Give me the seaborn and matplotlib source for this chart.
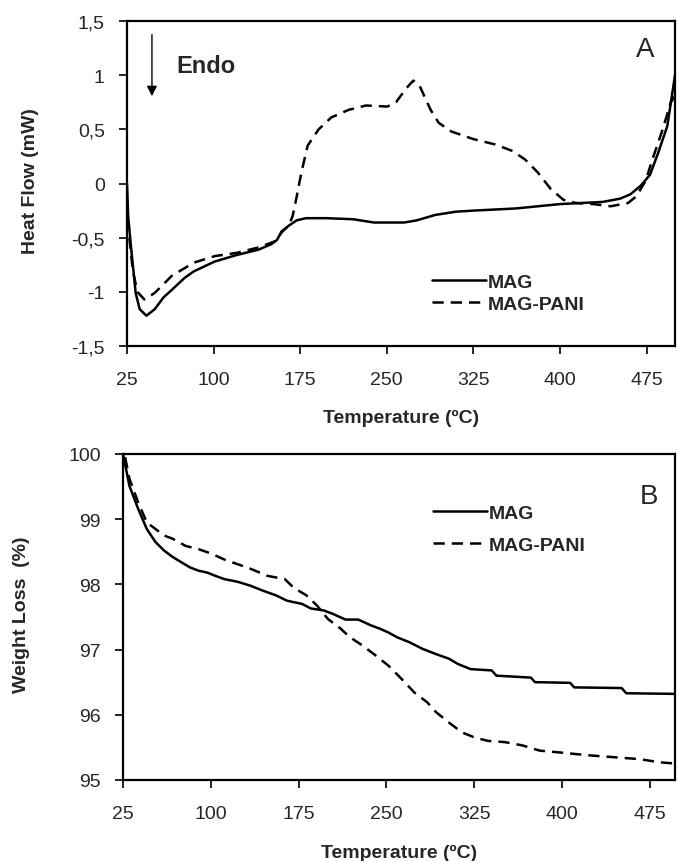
import matplotlib
matplotlib.use("Agg")
import matplotlib.pyplot as plt
import seaborn as sns
import pandas as pd

# ---- Data: panel A (DSC) ----
mag_dsc_t = [25, 26, 28.7, 32.5, 36, 41.8, 49, 56.7, 64, 75, 83, 101, 120, 139, 150, 155, 159, 165, 172,
             180, 198, 221, 239, 265, 276, 292, 310, 325, 344, 362, 381, 400, 418, 437, 452, 461, 470,
             478, 485, 493, 500]
mag_dsc_hf = [0.0, -0.3, -0.61, -1.01, -1.16, -1.22, -1.16, -1.05, -0.98, -0.87, -0.81, -0.72, -0.66, -0.61,
              -0.56, -0.52, -0.44, -0.39, -0.34, -0.32, -0.32, -0.33, -0.36, -0.36, -0.34, -0.29, -0.26,
              -0.25, -0.24, -0.23, -0.21, -0.19, -0.18, -0.17, -0.14, -0.10, -0.02, 0.08, 0.28, 0.53, 1.02]
pani_dsc_t = [27, 30, 34, 40, 49, 64, 83, 101, 120, 139, 154, 159, 165, 168.5, 172, 176, 181.5, 191, 202,
              217, 232, 250.5, 258, 267, 273, 278.5, 288, 295, 306, 325, 344, 359, 370, 381, 392, 403,
              414, 429, 444, 459, 466, 474, 481, 489, 496, 500]
pani_dsc_hf = [-0.5, -0.8, -1.0, -1.07, -1.01, -0.85, -0.73, -0.67, -0.64, -0.59, -0.53, -0.45, -0.39, -0.30,
               -0.12, 0.10, 0.35, 0.50, 0.61, 0.68, 0.72, 0.71, 0.75, 0.88, 0.95, 0.90, 0.68, 0.56, 0.48,
               0.41, 0.36, 0.30, 0.22, 0.10, -0.05, -0.15, -0.18, -0.19, -0.21, -0.18, -0.12, 0.02, 0.25,
               0.50, 0.75, 0.81]

# ---- Data: panel B (TGA) ----
mag_tga_t = [25, 30.5, 37.9, 45.3, 52.7, 60, 67.4, 74.8, 82.2, 89.6, 97, 104, 111.7, 122.8, 133.8, 145, 156,
             165, 178, 185.5, 196.5, 204, 215, 226, 237, 244.5, 252, 259, 270, 281, 292.5, 303.5, 311,
             322, 340, 344, 373.5, 377, 407, 410.5, 451, 455, 498]
mag_tga_w = [100, 99.51, 99.16, 98.85, 98.65, 98.52, 98.42, 98.34, 98.26, 98.21, 98.18, 98.13, 98.08, 98.04,
             97.98, 97.90, 97.83, 97.75, 97.70, 97.63, 97.60, 97.55, 97.46, 97.46, 97.37, 97.32, 97.26,
             97.19, 97.11, 97.01, 96.93, 96.86, 96.78, 96.70, 96.68, 96.60, 96.57, 96.50, 96.49, 96.42,
             96.41, 96.33, 96.32]
pani_tga_t = [26.8, 30.5, 37.9, 45.3, 52.7, 60, 67.4, 78.5, 89.6, 100.6, 111.7, 122.8, 133.8, 148.6, 163.3,
              170.7, 181.8, 191, 200, 211, 218.8, 229.8, 240.8, 252, 263, 274, 285, 292.5, 303.5, 314.6,
              325.6, 336.7, 351.5, 366.3, 381, 399.4, 421.6, 443.7, 465.9, 484.3, 498]
pani_tga_w = [99.95, 99.62, 99.26, 98.95, 98.85, 98.75, 98.70, 98.59, 98.54, 98.47, 98.38, 98.31, 98.24,
              98.13, 98.08, 97.95, 97.83, 97.67, 97.47, 97.32, 97.19, 97.06, 96.91, 96.75, 96.55, 96.34,
              96.19, 96.04, 95.88, 95.73, 95.65, 95.60, 95.58, 95.53, 95.45, 95.42, 95.38, 95.35, 95.32,
              95.27, 95.25]

series_labels = ["MAG", "MAG-PANI"]
x_ticks = [25, 100, 175, 250, 325, 400, 475]
a_yticks = [-1.5, -1, -0.5, 0, 0.5, 1, 1.5]
a_yticklabels = ["-1,5", "-1", "-0,5", "0", "0,5", "1", "1,5"]
b_yticks = [95, 96, 97, 98, 99, 100]

sns.set_style("ticks")
plt.rcParams["font.family"] = ["Liberation Sans", "DejaVu Sans"]

fig = plt.figure(figsize=(6.77, 8.62), dpi=100)
axA = fig.add_axes([0.1876, 0.5974, 0.8100, 0.3771])
axB = fig.add_axes([0.1817, 0.0940, 0.8160, 0.3782])

dfA = pd.concat([
    pd.DataFrame({"T": mag_dsc_t, "v": mag_dsc_hf, "s": series_labels[0]}),
    pd.DataFrame({"T": pani_dsc_t, "v": pani_dsc_hf, "s": series_labels[1]}),
])
dfB = pd.concat([
    pd.DataFrame({"T": mag_tga_t, "v": mag_tga_w, "s": series_labels[0]}),
    pd.DataFrame({"T": pani_tga_t, "v": pani_tga_w, "s": series_labels[1]}),
])

dash_map = {"MAG": "", "MAG-PANI": (4.5, 2.8)}
for ax, df in ((axA, dfA), (axB, dfB)):
    sns.lineplot(data=df, x="T", y="v", hue="s", style="s", palette=["black", "black"],
                 dashes=dash_map, linewidth=1.8, sort=False, estimator=None, ax=ax)
    for sp in ax.spines.values():
        sp.set_linewidth(1.6)
        sp.set_color("black")
    ax.set_xticks(x_ticks)
    ax.set_xticklabels([str(t) for t in x_ticks])
    ax.tick_params(axis="both", direction="out", length=6, width=1.2, labelsize=14, color="black")
    ax.tick_params(axis="x", pad=12)
    ax.tick_params(axis="y", pad=10)

axA.set_xlabel("Temperature (ºC)", fontsize=14, fontweight="bold", labelpad=15)
axB.set_xlabel("Temperature (ºC)", fontsize=14, fontweight="bold", labelpad=16)

axA.set_xlim(25, 500)
axA.set_ylim(-1.5, 1.5)
axA.set_yticks(a_yticks)
axA.set_yticklabels(a_yticklabels)
axA.set_ylabel("Heat Flow (mW)", fontsize=14, fontweight="bold")
axA.yaxis.set_label_coords(-0.16, 0.51)

axB.set_xlim(25, 497)
axB.set_ylim(95, 100)
axB.set_yticks(b_yticks)
axB.set_yticklabels([str(t) for t in b_yticks])
axB.set_ylabel("Weight Loss  (%)", fontsize=14, fontweight="bold")
axB.yaxis.set_label_coords(-0.168, 0.51)

# legends
hA, lA = axA.get_legend_handles_labels()
axA.legend(hA, lA, loc="center left", bbox_to_anchor=(0.525, 0.163), frameon=False,
           handlelength=2.75, handletextpad=0.1, labelspacing=0.2,
           prop={"weight": "bold", "size": 14})
hB, lB = axB.get_legend_handles_labels()
axB.legend(hB, lB, loc="center left", bbox_to_anchor=(0.53, 0.77), frameon=False,
           handlelength=2.75, handletextpad=0.1, labelspacing=0.75,
           prop={"weight": "bold", "size": 14})

# annotations
axA.annotate("", xy=(46.6, 0.78), xytext=(46.6, 1.40),
             arrowprops=dict(arrowstyle="-|>", color="black", lw=1.0, mutation_scale=15))
axA.text(68, 1.09, "Endo", fontsize=17, fontweight="bold", va="center", ha="left")
axA.text(474, 1.24, "A", fontsize=20, va="center", ha="center")
axB.text(474, 99.35, "B", fontsize=20, va="center", ha="center")

fig.savefig("out.png", dpi=100)
